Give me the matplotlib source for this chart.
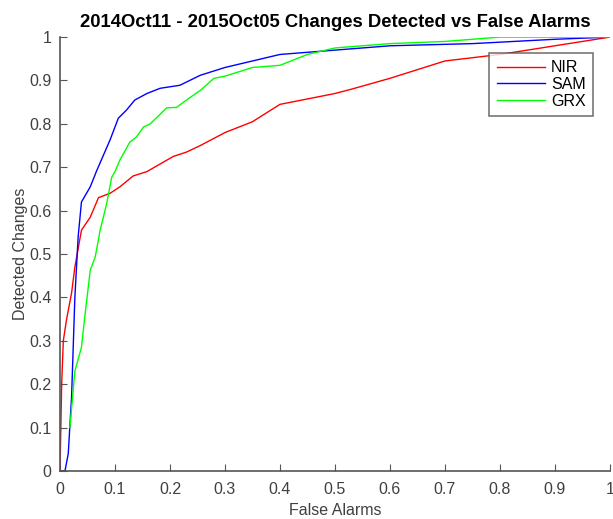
import matplotlib
matplotlib.use('Agg')
import matplotlib.pyplot as plt

# curve points
nir_x = [0, 0.003, 0.006, 0.012, 0.021, 0.027, 0.039, 0.055, 0.07, 0.091, 0.109, 0.133, 0.158,
         0.206, 0.23, 0.255, 0.3, 0.35, 0.4, 0.5, 0.53, 0.6, 0.7, 0.8, 0.9, 1.0]
nir_y = [0, 0.2, 0.30, 0.35, 0.41, 0.47, 0.555, 0.585, 0.63, 0.64, 0.655, 0.68, 0.69,
         0.725, 0.735, 0.75, 0.78, 0.805, 0.845, 0.87, 0.88, 0.905, 0.945, 0.96, 0.98, 1.0]

sam_x = [0, 0.009, 0.015, 0.021, 0.027, 0.033, 0.039, 0.055, 0.067, 0.079, 0.091, 0.106, 0.121,
         0.136, 0.158, 0.182, 0.218, 0.255, 0.3, 0.4, 0.5, 0.6, 0.75, 0.9, 1.0]
sam_y = [0, 0, 0.04, 0.17, 0.40, 0.54, 0.62, 0.655, 0.693, 0.728, 0.763, 0.813, 0.832,
         0.855, 0.87, 0.882, 0.889, 0.912, 0.93, 0.96, 0.97, 0.98, 0.985, 0.995, 1.0]

grx_x = [0.018, 0.027, 0.039, 0.045, 0.055, 0.064, 0.073, 0.085, 0.094, 0.1, 0.109, 0.127, 0.139,
         0.152, 0.164, 0.194, 0.212, 0.23, 0.255, 0.28, 0.3, 0.35, 0.4, 0.45, 0.5, 0.6, 0.7, 0.8, 1.0]
grx_y = [0.10, 0.23, 0.285, 0.355, 0.463, 0.493, 0.555, 0.617, 0.677, 0.69, 0.717, 0.758, 0.77,
         0.793, 0.80, 0.837, 0.838, 0.855, 0.877, 0.905, 0.91, 0.93, 0.935, 0.96, 0.975, 0.985, 0.99, 1.0, 1.0]

ticks = [0, 0.1, 0.2, 0.3, 0.4, 0.5, 0.6, 0.7, 0.8, 0.9, 1]
tick_labels = ['0', '0.1', '0.2', '0.3', '0.4', '0.5', '0.6', '0.7', '0.8', '0.9', '1']

plt.rcParams['font.family'] = ['Liberation Sans', 'DejaVu Sans']

fig = plt.figure(figsize=(6.13, 5.19), dpi=100)
ax = fig.add_axes([0.0979, 0.0925, 0.897, 0.836])

ax.plot(nir_x, nir_y, color='#ff0000', lw=1, label='NIR')
ax.plot(sam_x, sam_y, color='#0000ff', lw=1, label='SAM')
ax.plot(grx_x, grx_y, color='#00ff00', lw=1, label='GRX')

ax.set_xlim(0, 1)
ax.set_ylim(0, 1)
ax.set_xticks(ticks)
ax.set_xticklabels(tick_labels)
ax.set_yticks(ticks)
ax.set_yticklabels(tick_labels)

for s in ['top', 'right']:
    ax.spines[s].set_visible(False)
for s in ['left', 'bottom']:
    ax.spines[s].set_color('#555555')
    ax.spines[s].set_linewidth(1.2)
ax.tick_params(direction='in', length=5, colors='#555555', labelcolor='#404040', labelsize=11.5)
ax.tick_params(axis='x', pad=8)
ax.tick_params(axis='y', pad=6)

ax.set_xlabel('False Alarms', fontsize=11.5, color='#404040', labelpad=4)
ax.set_ylabel('Detected Changes', fontsize=11.5, color='#404040', labelpad=1)
ax.set_title('2014Oct11 - 2015Oct05 Changes Detected vs False Alarms',
             fontsize=13.3, fontweight='bold', pad=7)

leg = ax.legend(loc='upper right', bbox_to_anchor=(0.969, 0.963), fancybox=False,
                fontsize=11.5, handlelength=3.0, borderpad=0.45, labelspacing=0.1,
                handletextpad=0.4, borderaxespad=0)
leg.get_frame().set_edgecolor('#555555')
leg.get_frame().set_linewidth(1.2)

fig.savefig('out.png', dpi=100)
